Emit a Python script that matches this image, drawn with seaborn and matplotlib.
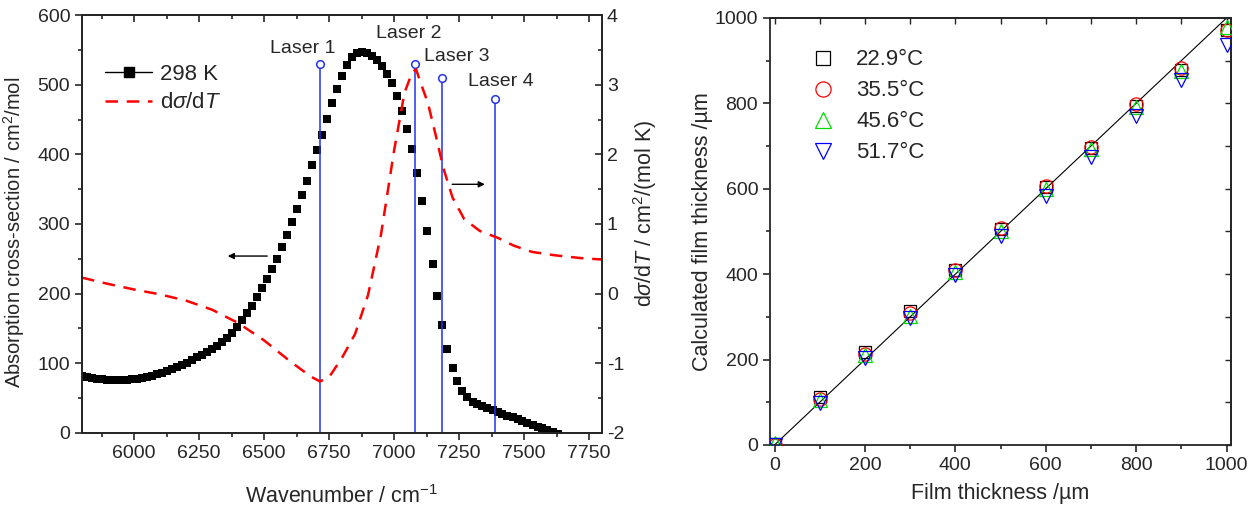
import matplotlib
matplotlib.use("Agg")
import matplotlib.pyplot as plt
from matplotlib.lines import Line2D
from matplotlib.ticker import MultipleLocator
import pandas as pd
import seaborn as sns

# left panel: absorption cross-section (298 K), left axis
wavenumber = [
    5800, 5819, 5839, 5858, 5877, 5896, 5916, 5935, 5954, 5973,
    5993, 6012, 6031, 6050, 6070, 6089, 6108, 6127, 6147, 6166,
    6185, 6204, 6224, 6243, 6262, 6281, 6301, 6320, 6339, 6358,
    6378, 6397, 6416, 6435, 6455, 6474, 6493, 6512, 6532, 6551,
    6570, 6589, 6609, 6628, 6647, 6666, 6686, 6705, 6724, 6743,
    6763, 6782, 6801, 6820, 6840, 6859, 6878, 6897, 6917, 6936,
    6955, 6974, 6994, 7013, 7032, 7051, 7071, 7090, 7109, 7128,
    7148, 7167, 7186, 7205, 7225, 7244, 7263, 7282, 7302, 7321,
    7340, 7359, 7379, 7398, 7417, 7436, 7456, 7475, 7494, 7513,
    7533, 7552, 7571, 7590, 7610, 7629,
]
cross_section = [
    82, 80.5, 79, 78, 77, 76.5, 76, 76, 76, 76.5,
    77, 78, 79.5, 81, 82.5, 84.5, 86.5, 89, 91.5, 94.5,
    97.5, 101, 104.5, 108.5, 112.5, 116, 120.5, 125.5, 131, 137,
    144, 152, 162, 172, 183, 195, 208, 221, 235, 250,
    267, 284, 303, 322, 342, 362, 384, 406, 428, 451,
    473, 494, 512, 528, 539, 545, 547, 545, 541, 535,
    527, 516, 502, 484, 462, 437, 408, 373, 333, 290,
    243, 197, 155, 120, 94, 74, 60, 52, 45, 42,
    39, 36, 33, 30, 27.5, 25, 22.5, 20, 17, 14.5,
    12, 9, 6.5, 4, 1.5, -1,
]

# d(sigma)/dT, right axis
dsdt_wn = [5800, 5900, 6000, 6100, 6200, 6300, 6400, 6500, 6600, 6680,
           6715, 6750, 6800, 6850, 6900, 6950, 7000, 7040, 7070, 7085,
           7100, 7130, 7160, 7190, 7225, 7270, 7330, 7400, 7460, 7530,
           7620, 7720, 7800]
dsdt = [0.23, 0.14, 0.06, -0.01, -0.10, -0.23, -0.42, -0.67, -0.97, -1.19,
        -1.26, -1.20, -0.92, -0.58, -0.02, 0.85, 2.05, 2.88, 3.18, 3.22,
        3.05, 2.74, 2.28, 1.80, 1.38, 1.07, 0.90, 0.80, 0.69, 0.60,
        0.55, 0.51, 0.49]

laser_names = ["Laser 1", "Laser 2", "Laser 3", "Laser 4"]
laser_wn = [6715, 7082, 7185, 7390]
laser_top = [530, 530, 510, 480]
label_wn = [6650, 7056, 7243, 7411]
label_y = [552, 573, 540, 505]

# right panel: film thickness calibration
film = [0, 100, 200, 300, 400, 500, 600, 700, 800, 900, 1000]
temps = ["22.9°C", "35.5°C", "45.6°C", "51.7°C"]
calc_229 = [2, 113, 217, 314, 410, 505, 604, 696, 795, 879, 971]
calc_355 = [0, 108, 212, 310, 410, 508, 607, 699, 798, 883, 972]
calc_456 = [5, 106, 210, 303, 404, 500, 600, 694, 792, 876, 979]
calc_517 = [0, 98, 204, 298, 398, 490, 583, 675, 771, 855, 936]

sns.set_theme(style="ticks")
plt.rcParams["font.family"] = ["Liberation Sans", "DejaVu Sans"]
plt.rcParams["mathtext.fontset"] = "custom"
plt.rcParams["mathtext.rm"] = "Liberation Sans"
plt.rcParams["mathtext.it"] = "Liberation Sans:italic"
plt.rcParams["axes.linewidth"] = 1.3
plt.rcParams["axes.unicode_minus"] = False

FS = 14
LFS = 15.5
LEG = 16


def set_steps(axis_obj, major, minor):
    axis_obj.set_major_locator(MultipleLocator(major))
    axis_obj.set_minor_locator(MultipleLocator(minor))


fig = plt.figure(figsize=(12.6, 5.12), dpi=100)
ax = fig.add_axes([0.0651, 0.1543, 0.4127, 0.8164])
ax2 = ax.twinx()

spec = pd.DataFrame({"wn": wavenumber, "sigma": cross_section})
deriv = pd.DataFrame({"wn": dsdt_wn, "dsdt": dsdt})

sns.lineplot(data=spec, x="wn", y="sigma", ax=ax, marker="s", linestyle="",
             color="black", markersize=5.6, markeredgewidth=0, zorder=3)
sns.lineplot(data=deriv, x="wn", y="dsdt", ax=ax2, color="red",
             linewidth=1.8, dashes=(5, 3.5), zorder=2)

for wn, top in zip(laser_wn, laser_top):
    ax.plot([wn, wn], [0, top], color="#2233ee", linewidth=1.1, zorder=4)
    ax.plot([wn], [top], marker="o", markersize=5.5, markerfacecolor="white",
            markeredgecolor="#2233ee", markeredgewidth=1.1, zorder=5, clip_on=False)
for name, x, y in zip(laser_names, label_wn, label_y):
    ax.text(x, y, name, ha="center", va="center", fontsize=14)

ax.annotate("", xy=(6350, 254), xytext=(6523, 254),
            arrowprops=dict(arrowstyle="-|>", color="black", lw=1.0,
                            mutation_scale=9))
ax2.annotate("", xy=(7360, 1.57), xytext=(7213, 1.57),
             arrowprops=dict(arrowstyle="-|>", color="black", lw=1.0,
                             mutation_scale=9))

ax.set_xlim(5800, 7800)
ax.set_ylim(0, 600)
ax2.set_ylim(-2, 4)
ax.set_xticks([6000, 6250, 6500, 6750, 7000, 7250, 7500, 7750])
ax.xaxis.set_minor_locator(MultipleLocator(125))
set_steps(ax.yaxis, 100, 50)
set_steps(ax2.yaxis, 1, 0.5)

ax.tick_params(axis="both", which="both", direction="out", labelsize=FS, width=1.2)
ax.tick_params(which="major", length=5)
ax.tick_params(which="minor", length=3)
ax2.tick_params(axis="y", which="both", direction="in", labelsize=FS, width=1.2)
ax2.tick_params(which="major", length=5)
ax2.tick_params(which="minor", length=3)
top_l = ax.secondary_xaxis("top")
top_l.set_xticks([6000, 6250, 6500, 6750, 7000, 7250, 7500, 7750])
top_l.xaxis.set_minor_locator(MultipleLocator(125))
top_l.tick_params(which="both", direction="in", labeltop=False, width=1.2)
top_l.tick_params(which="major", length=5)
top_l.tick_params(which="minor", length=3)

ax.set_xlabel(r"Wavenumber / cm$^{-1}$", fontsize=LFS)
ax.set_ylabel(r"Absorption cross-section / cm$^2$/mol", fontsize=14.5)
ax2.set_ylabel(r"d$\sigma$/d$T$ / cm$^2$/(mol K)", fontsize=LFS)
ax.xaxis.set_label_coords(0.5, -0.125)
ax.yaxis.set_label_coords(-0.106, 0.48)
ax2.yaxis.set_label_coords(1.056, 0.526)

handles = [
    Line2D([], [], color="black", marker="s", markersize=7.5, linewidth=1.0),
    Line2D([], [], color="red", linewidth=1.8, dashes=(5, 3.5)),
]
ax.legend(handles, ["298 K", r"d$\sigma$/d$T$"], loc="upper left",
          bbox_to_anchor=(0.028, 0.905), frameon=False, fontsize=LEG,
          handlelength=2.1, handletextpad=0.36, labelspacing=0.35,
          borderaxespad=0)

# right panel
axr = fig.add_axes([0.6111, 0.1309, 0.3659, 0.834])
axr.plot([0, 1000], [0, 1000], color="black", linewidth=0.8, zorder=1)
series = [calc_229, calc_355, calc_456, calc_517]
colors = ["black", "red", "#00dd00", "blue"]
markers = ["s", "o", "^", "v"]
sizes = [8.5, 9.5, 10, 10]
for name, vals, c, m, s in zip(temps, series, colors, markers, sizes):
    df = pd.DataFrame({"film": film, "calc": vals})
    sns.lineplot(data=df, x="film", y="calc", ax=axr, marker=m, linestyle="",
                 markersize=s, markerfacecolor="none", markeredgecolor=c,
                 markeredgewidth=0.9, color=c, label=name, zorder=3)

axr.set_xlim(-10, 1010)
axr.set_ylim(0, 1000)
set_steps(axr.xaxis, 200, 100)
set_steps(axr.yaxis, 200, 100)
axr.tick_params(axis="both", which="both", direction="out", labelsize=FS, width=1.2)
axr.tick_params(which="major", length=5)
axr.tick_params(which="minor", length=3)
top_r = axr.secondary_xaxis("top")
set_steps(top_r.xaxis, 200, 100)
top_r.tick_params(which="both", direction="in", labeltop=False, length=4, width=1.0)
right_r = axr.secondary_yaxis("right")
set_steps(right_r.yaxis, 200, 100)
right_r.tick_params(which="both", direction="in", labelright=False, length=4, width=1.0)
axr.set_xlabel("Film thickness /µm", fontsize=LFS)
axr.set_ylabel("Calculated film thickness /µm", fontsize=LFS)
axr.xaxis.set_label_coords(0.5, -0.089)
axr.yaxis.set_label_coords(-0.124, 0.5)
axr.legend(loc="upper left", bbox_to_anchor=(0.052, 0.947), frameon=False,
           fontsize=LEG, handlelength=1.8, handletextpad=0.6, markerscale=1.15,
           labelspacing=0.45, borderaxespad=0)

for a in (ax, ax2, axr):
    for sp in a.spines.values():
        sp.set_visible(True)
        sp.set_linewidth(1.3)

fig.savefig("out.png", dpi=100)
